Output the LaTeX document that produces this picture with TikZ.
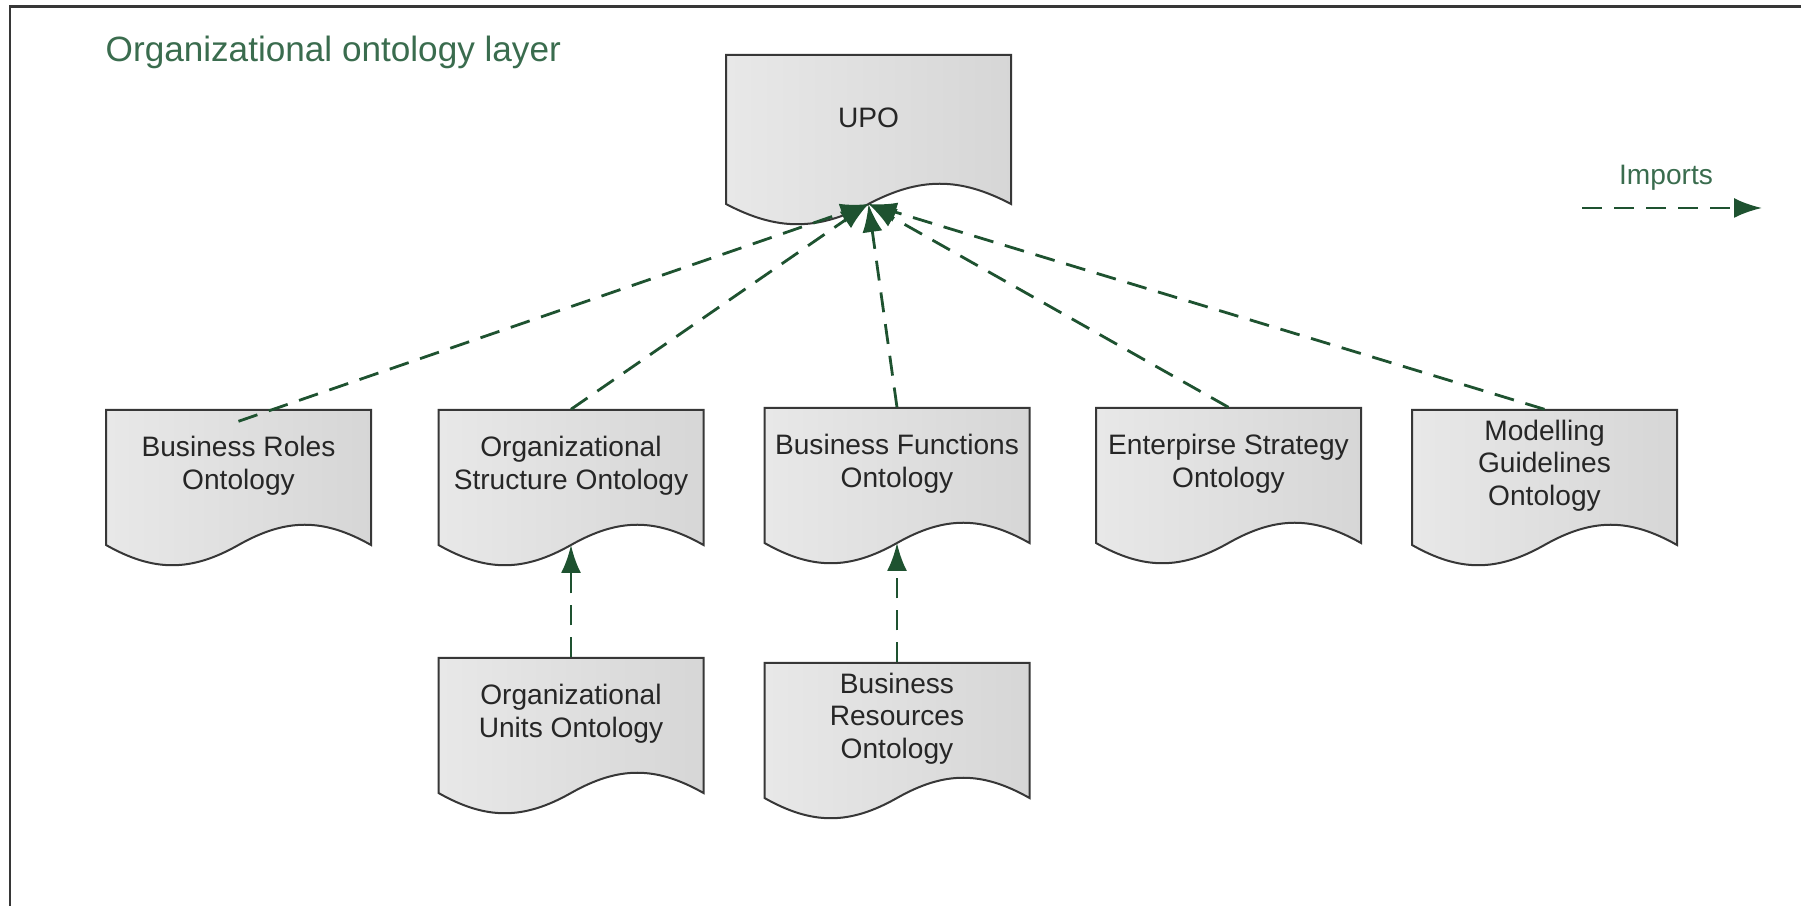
\documentclass[tikz,border=0pt]{standalone}
\usepackage{fontspec}
\setmainfont{Liberation Sans}
\usepackage{tikz}
\usetikzlibrary{arrows.meta}
\usepackage{xcolor}
\definecolor{verdescuro}{RGB}{30,82,48}
\definecolor{verdetesto}{RGB}{58,108,78}
\definecolor{bordo}{RGB}{55,55,55}
% #1 nome, #2 x centro, #3 y alto, #4 larghezza, #5 altezza, #6 testo
\newcommand{\foglio}[6]{%
    \path[foglio] ({#2-#4/2},#3) -- ({#2+#4/2},#3) -- ({#2+#4/2},{#3+#5})
        .. controls ({#2+#4/2-0.18*#4},{#3+#5-27}) and ({#2+0.18*#4},{#3+#5-27}) .. (#2,{#3+#5})
        .. controls ({#2-0.18*#4},{#3+#5+27}) and ({#2-#4/2+0.18*#4},{#3+#5+27}) .. ({#2-#4/2},{#3+#5}) -- cycle;
    \node[testo, minimum width={#4*0.1mm}, minimum height={(#5-24)*0.1mm}] (#1) at (#2,{#3+(#5-24)/2}) {#6};
    \coordinate (#1-b) at (#2,{#3+#5});
}

\begin{document}
\begin{tikzpicture}[x=0.1mm, y=-0.1mm,
    foglio/.style={draw=bordo, line width=0.2mm, left color=black!9, right color=black!16},
    testo/.style={align=center, inner sep=0pt, text=black!85, font=\fontsize{8}{9.3}\selectfont},
    importa/.style={verdescuro, line width=0.28mm, dash pattern=on 2mm off 1.2mm, -{Latex[length=2.8mm, width=2mm]}},
    titolo/.style={verdetesto, inner sep=0pt, font=\fontsize{10}{12}\selectfont}]
    \useasboundingbox (0,0) rectangle (1801,906);
    % Parametri
    \pgfmathsetmacro{\larg}{265}
    \pgfmathsetmacro{\alt}{135}
    % Cornice e titolo
    \draw[bordo, line width=0.3mm] (10,906) -- (10,7) -- (1801,7);
    \node[titolo, anchor=base west] (layer) at (105,62) {Organizational ontology layer};

    % Documenti
    \foglio{upo}{868.5}{55}{285}{149}{UPO}
    \foglio{br}{238.5}{410}{\larg}{\alt}{Business Roles\\Ontology}
    \foglio{os}{571}{410}{\larg}{\alt}{Organizational\\Structure Ontology}
    \foglio{bf}{897}{408}{\larg}{\alt}{Business Functions\\Ontology}
    \foglio{es}{1228.5}{408}{\larg}{\alt}{Enterpirse Strategy\\Ontology}
    \foglio{mg}{1544.5}{410}{\larg}{\alt}{Modelling\\Guidelines\\Ontology}
    \foglio{ou}{571}{658}{\larg}{\alt}{Organizational\\Units Ontology}
    \foglio{bres}{897}{663}{\larg}{\alt}{Business\\Resources\\Ontology}

    % Imports
    \draw[importa] ([yshift=-1.2mm]br.north) -- (upo-b);
    \draw[importa] (os.north) -- (upo-b);
    \draw[importa] (bf.north) -- (upo-b);
    \draw[importa] (es.north) -- (upo-b);
    \draw[importa] (mg.north) -- (upo-b);
    \draw[importa] (ou.north) -- (os-b);
    \draw[importa] (bres.north) -- (bf-b);

    % Legenda
    \node[titolo, font=\fontsize{8}{9.6}\selectfont] (imports) at (1666,178) {Imports};
    \coordinate (leg-a) at (1582,208);
    \coordinate (leg-b) at (1762,208);
    \draw[importa] (leg-a) -- (leg-b);
\end{tikzpicture}
\end{document}
